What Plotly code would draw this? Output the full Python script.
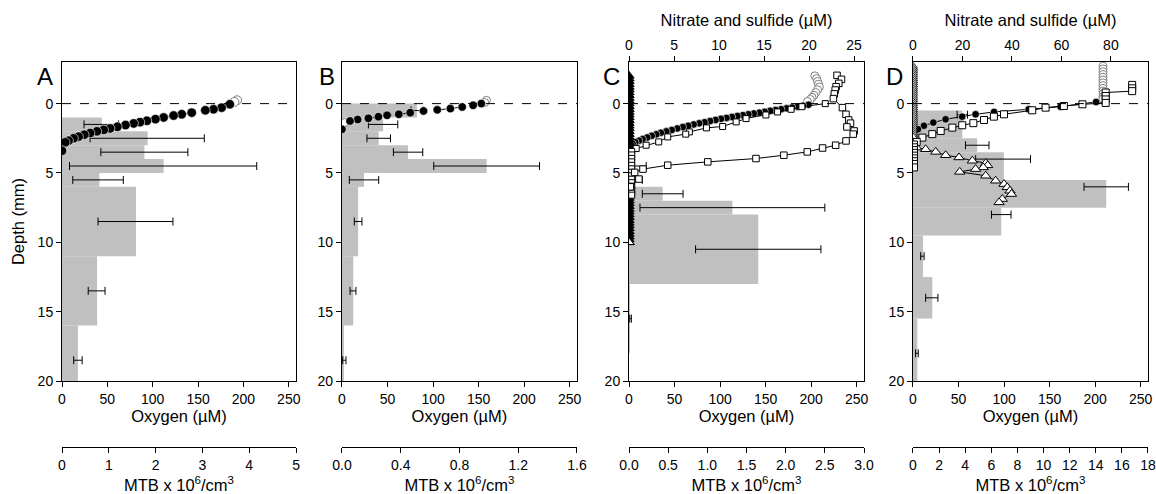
#MTB counts and O2 / nitrate / sulfide microprofiles, panels A-D
import plotly.graph_objects as go

FONT = "Liberation Sans, Arial, sans-serif"

#%%
#DATA
#panel A - MTB bars (depth intervals, mm) and counts (x10^6/cm3)
A_bar_top = [1, 2, 3, 4, 5, 6, 11, 16]
A_bar_bot = [2, 3, 4, 5, 6, 11, 16, 20]
A_mtb = [0.85, 1.83, 1.76, 2.17, 0.80, 1.58, 0.75, 0.34]
A_err_depth = [1.5, 2.5, 3.5, 4.5, 5.5, 8.5, 13.5, 18.5]
A_err_mid = [0.84, 1.82, 1.76, 2.16, 0.77, 1.57, 0.74, 0.34]
A_err = [0.37, 1.22, 0.93, 2.0, 0.54, 0.8, 0.18, 0.09]
A_o2 = [185, 176, 167, 158, 143, 132, 123, 112, 103, 93.6, 86, 79, 70, 61, 53, 46, 38.5, 31, 24.6, 18.3, 12.8, 7.3, 3.6, 0]
A_o2_depth = [0.05, 0.29, 0.41, 0.48, 0.65, 0.77, 0.86, 1.0, 1.12, 1.24, 1.34, 1.43, 1.55, 1.67, 1.79, 1.89, 2.0, 2.12, 2.24, 2.38, 2.5, 2.67, 2.79, 3.4]
A_o2_open = [193, 190, 2.0, 1.0]
A_o2_open_depth = [-0.24, -0.12, 2.85, 2.95]

#panel B
B_bar_top = [0, 1, 2, 3, 4, 5, 6, 11, 16]
B_bar_bot = [1, 2, 3, 4, 5, 6, 11, 16, 20]
B_mtb = [0.51, 0.28, 0.25, 0.45, 0.985, 0.15, 0.11, 0.077, 0.01]
B_err_depth = [0.5, 1.5, 2.5, 3.5, 4.5, 5.5, 8.5, 13.5, 18.5]
B_err_mid = [0.51, 0.28, 0.25, 0.45, 0.985, 0.15, 0.11, 0.075, 0.016]
B_err = [0.04, 0.10, 0.08, 0.10, 0.36, 0.10, 0.026, 0.02, 0.011]
B_o2 = [153, 144, 132, 119, 104.6, 89.5, 74.9, 62.4, 49.5, 40, 29, 17.2, 8.8, 0]
B_o2_depth = [0.0, 0.12, 0.24, 0.36, 0.45, 0.53, 0.65, 0.77, 0.84, 0.94, 1.06, 1.15, 1.25, 1.85]
B_o2_open = [158.6, 156.7, 2.5]
B_o2_open_depth = [-0.24, -0.08, 1.37]

#panel C
C_bar_top = [4, 5, 6, 7, 8, 13]
C_bar_bot = [5, 6, 7, 8, 13, 18]
C_mtb = [0.07, 0.07, 0.43, 1.32, 1.65, 0.01]
C_err_depth = [4.5, 5.5, 6.5, 7.5, 10.5, 15.5]
C_err_mid = [0.07, 0.07, 0.43, 1.32, 1.65, 0.02]
C_err = [0.15, 0.10, 0.26, 1.18, 0.80, 0.01]
C_o2 = [197, 191, 185, 179, 173, 167, 161, 155, 149, 143, 137, 131, 125, 119, 113, 107, 101, 95, 89, 83,
        77, 71, 65, 59, 53, 47, 41, 35, 30, 25, 20, 15, 11, 7, 4, 2]
C_o2_depth = [0.08, 0.15, 0.22, 0.28, 0.34, 0.4, 0.46, 0.52, 0.59, 0.65, 0.71, 0.77, 0.83, 0.89, 0.96, 1.03,
              1.1, 1.18, 1.26, 1.34, 1.42, 1.5, 1.6, 1.69, 1.79, 1.9, 2.0, 2.1, 2.21, 2.32, 2.44, 2.56, 2.67,
              2.78, 2.9, 3.0]
C_o2_open = [204, 206, 207, 208, 209, 207, 205, 203, 201, 199, 196, 1.0, 0.5, 0.2]
C_o2_open_depth = [-2.0, -1.8, -1.6, -1.4, -1.2, -1.0, -0.8, -0.6, -0.45, -0.3, -0.15, 3.1, 3.2, 3.3]
C_no3_a = [23.1, 23.6, 23.3, 23.0, 22.9, 22.8, 22.7, 23.7, 24.1, 24.4, 24.6, 24.2, 25.0, 24.9, 24.1, 22.95,
           21.5, 19.8, 17.2, 14.1, 8.75, 4.3, 1.55, 0.63, 1.1, 0.15]
C_no3_a_depth = [-2.04, -1.75, -1.46, -1.22, -0.98, -0.7, -0.36, 0.29, 0.77, 1.18, 1.41, 1.68, 1.97, 2.2,
                 2.69, 3.0, 3.2, 3.48, 3.72, 3.96, 4.2, 4.44, 4.72, 4.96, 5.44, 6.0]
C_no3_b = [21.8, 19.2, 18.0, 16.5, 15.2, 13.0, 11.9, 10.4, 8.6, 6.7, 6.3, 4.3, 3.3, 1.9, 0.8,
           0.3, 0.3, 0.3, 0.3, 0.3, 0.3, 0.3, 0.3, 0.3, 0.3, 0.3, 0.3, 0.3, 0.3]
C_no3_b_depth = [0.0, 0.22, 0.41, 0.6, 0.82, 1.08, 1.32, 1.65, 1.75, 2.04, 2.2, 2.4, 2.76, 3.0, 3.24,
                 3.45, 3.7, 3.95, 4.2, 4.45, 4.7, 4.95, 5.2, 5.45, 5.7, 5.95, 6.2, 6.45, 6.6]
C_h2s_depth = [-2.0, -1.8, -1.6, -1.4, -1.2, -1.0, -0.8, -0.6, -0.4, -0.2, 0.0, 0.2, 0.4, 0.6, 0.8, 1.0,
               1.2, 1.4, 1.6, 1.8, 2.0, 2.2, 2.4, 2.6, 2.8, 3.0, 3.2, 3.4, 3.6, 3.8, 4.0, 4.2, 4.4, 4.6,
               4.8, 5.0, 5.2, 5.4, 5.6, 5.8, 6.0, 6.2, 6.4, 6.6, 6.8, 7.0, 7.2, 7.4, 7.6, 7.8, 8.0, 8.2,
               8.4, 8.6, 8.8, 9.0, 9.2, 9.4, 9.6, 9.8, 10.0]
C_h2s = [0.0] * len(C_h2s_depth)

#panel D
D_bar_top = [0.5, 2.5, 3.5, 5.5, 7.5, 9.5, 12.5, 15.5]
D_bar_bot = [2.5, 3.5, 5.5, 7.5, 9.5, 12.5, 15.5, 20]
D_mtb = [3.78, 4.92, 6.96, 14.8, 6.76, 0.77, 1.48, 0.33]
D_err_depth = [0.8, 3.0, 4.0, 6.0, 8.0, 11.0, 14.0, 18.0]
D_err_mid = [3.78, 4.92, 6.9, 14.8, 6.76, 0.72, 1.44, 0.3]
D_err = [0.4, 0.9, 2.1, 1.7, 0.75, 0.13, 0.47, 0.1]
D_o2 = [201, 162, 127, 89, 68.7, 54, 35.8, 22.3, 12, 5.5]
D_o2_depth = [-0.12, 0.22, 0.41, 0.6, 0.77, 0.94, 1.13, 1.37, 1.6, 1.85]
D_o2_open = [208.6, 208.6, 208.6, 208.6, 208.6, 208.6, 208.6, 208.6, 208.6, 208.6, 208.6, 208.6, 208.6,
             1.5, 1.0, 0.6, 0.3, 0.2, 0.1, 0.1]
D_o2_open_depth = [-2.7, -2.5, -2.3, -2.1, -1.9, -1.7, -1.5, -1.3, -1.1, -0.9, -0.7, -0.5, -0.34,
                   2.0, 2.2, 2.4, 2.6, 2.8, 3.0, 3.2]
D_no3 = [88.6, 88.6, 88.6, 77.9, 77.9, 77.9, 77.9, 68.5, 61, 53.6, 48.2, 36.8, 32.7, 28.7, 24.4, 19.9,
         15.9, 11.2, 7.8, 3.8, 1.5, 0.4, 0.4, 0.4, 0.4, 0.4, 0.4, 0.4, 0.4, 0.4]
D_no3_depth = [-1.35, -1.1, -0.9, -0.8, -0.55, -0.3, -0.05, 0.05, 0.17, 0.29, 0.48, 0.77, 0.94, 1.18,
               1.41, 1.56, 1.73, 1.97, 2.2, 2.45, 2.76, 2.95, 3.15, 3.35, 3.55, 3.75, 3.95, 4.15, 4.35, 4.6]
D_h2s_zero_depth = [-2.7, -2.55, -2.4, -2.25, -2.1, -1.95, -1.8, -1.65, -1.5, -1.35, -1.2, -1.05, -0.9,
                    -0.75, -0.6, -0.45, -0.3, -0.15, 0.0, 0.15, 0.3, 0.45, 0.6, 0.75, 0.9, 1.05, 1.2,
                    1.35, 1.5, 1.65, 1.8, 1.95, 2.1, 2.25, 2.4]
D_h2s_zero = [0.0] * len(D_h2s_zero_depth)
D_h2s = [1.5, 5.1, 9.2, 13.2, 18.6, 24, 29.4, 30.2, 28.4, 25.3, 18.9, 29.4, 33.4, 36.8, 38.1, 39.2, 39.8, 36.1, 34.8]
D_h2s_depth = [3.17, 3.29, 3.48, 3.72, 3.88, 4.12, 4.29, 4.45, 4.6, 4.72, 4.92, 5.2, 5.56, 5.8, 6.04, 6.28, 6.52, 6.88, 7.12]

panel_labels = ['A', 'B', 'C', 'D']
mtb_ranges = [[0, 5], [0, 1.6], [0, 3], [0, 18]]
mtb_dticks = [1, 0.4, 0.5, 2]
mtb_formats = ['d', '.1f', '.1f', 'd']

#%%
#LAYOUT helpers
W, H = 1156, 494
M_L, M_R, M_T, M_B = 62, 8, 62, 10
x_dom = [[0, 0.2155], [0.2578, 0.4742], [0.5221, 0.7385], [0.7836, 1.0]]
y_dom = [0.244, 1.0]
mtb_pos = 0.0877

mtb_ax = ['x', 'x2', 'x3', 'x4']
o2_ax = ['x5', 'x6', 'x7', 'x8']
nit_ax = {2: 'x9', 3: 'x10'}
y_ax = ['y', 'y2', 'y3', 'y4']

fig = go.Figure()


def add_bars(i, top, bot, val, err_d, err_m, err):
    mid = [(t + b) / 2 for t, b in zip(top, bot)]
    wid = [b - t for t, b in zip(top, bot)]
    fig.add_trace(go.Bar(x=val, y=mid, width=wid, orientation='h', marker_color='#c0c0c0',
                         marker_line_width=0, xaxis=mtb_ax[i], yaxis=y_ax[i], showlegend=False))
    fig.add_trace(go.Scatter(x=err_m, y=err_d, mode='markers', marker=dict(size=1, color='rgba(0,0,0,0)'),
                             error_x=dict(type='data', array=err, color='black', thickness=1, width=4),
                             xaxis=mtb_ax[i], yaxis=y_ax[i], showlegend=False))


def add_profile(i, x, y, ax, symbol='circle', fill='black', edge='white', size=8, line=None, lw=1.0):
    mode = 'markers' if line is None else 'lines+markers'
    fig.add_trace(go.Scatter(x=x, y=y, mode=mode,
                             line=dict(color='black', width=1, dash=line if line else 'solid'),
                             marker=dict(symbol=symbol, color=fill, size=size, line=dict(color=edge, width=lw)),
                             xaxis=ax, yaxis=y_ax[i], showlegend=False))


add_bars(0, A_bar_top, A_bar_bot, A_mtb, A_err_depth, A_err_mid, A_err)
add_bars(1, B_bar_top, B_bar_bot, B_mtb, B_err_depth, B_err_mid, B_err)
add_bars(2, C_bar_top, C_bar_bot, C_mtb, C_err_depth, C_err_mid, C_err)
add_bars(3, D_bar_top, D_bar_bot, D_mtb, D_err_depth, D_err_mid, D_err)

#oxygen
add_profile(0, A_o2_open, A_o2_open_depth, o2_ax[0], fill='white', edge='#808080', size=9)
add_profile(0, A_o2, A_o2_depth, o2_ax[0], size=9.5, line='dash', lw=0.6)
add_profile(1, B_o2_open, B_o2_open_depth, o2_ax[1], fill='white', edge='#808080', size=8)
add_profile(1, B_o2, B_o2_depth, o2_ax[1], size=8.5, line='dash', lw=0.6)
add_profile(2, C_o2_open, C_o2_open_depth, o2_ax[2], fill='white', edge='#808080', size=8)
add_profile(2, C_o2, C_o2_depth, o2_ax[2], size=7.5, lw=0.6)
add_profile(3, D_o2_open, D_o2_open_depth, o2_ax[3], fill='white', edge='#808080', size=8)
add_profile(3, D_o2, D_o2_depth, o2_ax[3], size=7.5, line='solid', lw=0.6)

#nitrate and sulfide
add_profile(2, C_h2s, C_h2s_depth, nit_ax[2], symbol='triangle-up', fill='black', edge='black', size=9, lw=1)
add_profile(2, C_h2s[-1:], C_h2s_depth[-1:], nit_ax[2], symbol='triangle-up', fill='white', edge='black', size=9, lw=1)
add_profile(2, C_no3_b, C_no3_b_depth, nit_ax[2], symbol='square', fill='white', edge='black', size=6, line='solid')
add_profile(2, C_no3_a, C_no3_a_depth, nit_ax[2], symbol='square', fill='white', edge='black', size=6.5, line='solid')
add_profile(3, D_h2s_zero, D_h2s_zero_depth, nit_ax[3], symbol='triangle-up', fill='white', edge='black', size=8, lw=0.8)
add_profile(3, D_h2s, D_h2s_depth, nit_ax[3], symbol='triangle-up', fill='white', edge='black', size=9, line='solid')
add_profile(3, D_no3, D_no3_depth, nit_ax[3], symbol='square', fill='white', edge='black', size=7, line='solid')

tick_font = dict(family=FONT, size=14, color='black')
title_font = dict(family=FONT, size=16.5, color='black')

layout = dict(width=W, height=H, margin=dict(l=M_L, r=M_R, t=M_T, b=M_B),
              paper_bgcolor='white', plot_bgcolor='white', barmode='overlay',
              font=dict(family=FONT, color='black'), showlegend=False)

common = dict(showline=True, linecolor='black', linewidth=1, ticks='outside', ticklen=5, tickcolor='black',
              showgrid=False, zeroline=False, tickfont=tick_font, automargin=False)

for i in range(4):
    n = '' if i == 0 else str(i + 1)
    layout['xaxis' + n] = dict(domain=x_dom[i], anchor='free', position=mtb_pos, range=mtb_ranges[i],
                               dtick=mtb_dticks[i], tick0=0, tickformat=mtb_formats[i],
                               ticklabeloverflow='allow',
                               title=dict(text='MTB x 10<sup>6</sup>/cm<sup>3</sup>', font=title_font, standoff=10),
                               **common)
    layout['xaxis' + str(i + 5)] = dict(overlaying=mtb_ax[i], anchor=y_ax[i], side='bottom', range=[0, 258],
                                        dtick=50, tick0=0, mirror=True, ticklabeloverflow='allow',
                                        title=dict(text='Oxygen (µM)', font=title_font, standoff=2), **common)
    layout['yaxis' + n] = dict(domain=y_dom, anchor=mtb_ax[i], range=[20, -3], tickvals=[0, 5, 10, 15, 20],
                               mirror=True, **common)
layout['yaxis']['title'] = dict(text='Depth (mm)', font=title_font, standoff=8)

for i, rng, dt in [(2, [0, 26.1], 5), (3, [0, 95], 20)]:
    layout['xaxis' + nit_ax[i][1:]] = dict(overlaying=mtb_ax[i], anchor=y_ax[i], side='top', range=rng,
                                           dtick=dt, tick0=0,
                                           title=dict(text='Nitrate and sulfide (µM)', font=title_font, standoff=6),
                                           **common)

fig.update_layout(**layout)

#dashed surface line and panel letters (label centres in pixels)
label_x = [45, 327, 611, 894]
label_y = 76
plot_w = W - M_L - M_R
plot_h = H - M_T - M_B
for i in range(4):
    fig.add_shape(type='line', xref=mtb_ax[i] + ' domain', yref=y_ax[i], x0=0, x1=1, y0=0, y1=0,
                  line=dict(color='black', width=1, dash='dash'), layer='above')
    fig.add_annotation(x=(label_x[i] - M_L) / plot_w, y=(H - M_B - label_y) / plot_h,
                       xref='paper', yref='paper', text=panel_labels[i], showarrow=False,
                       font=dict(family=FONT, size=24, color='black'), xanchor='center', yanchor='middle')

#drop the default page margin so the figure fills the window exactly
fig.write_html("out.html", config={'displayModeBar': False},
               post_script="document.body.style.margin='0';")
